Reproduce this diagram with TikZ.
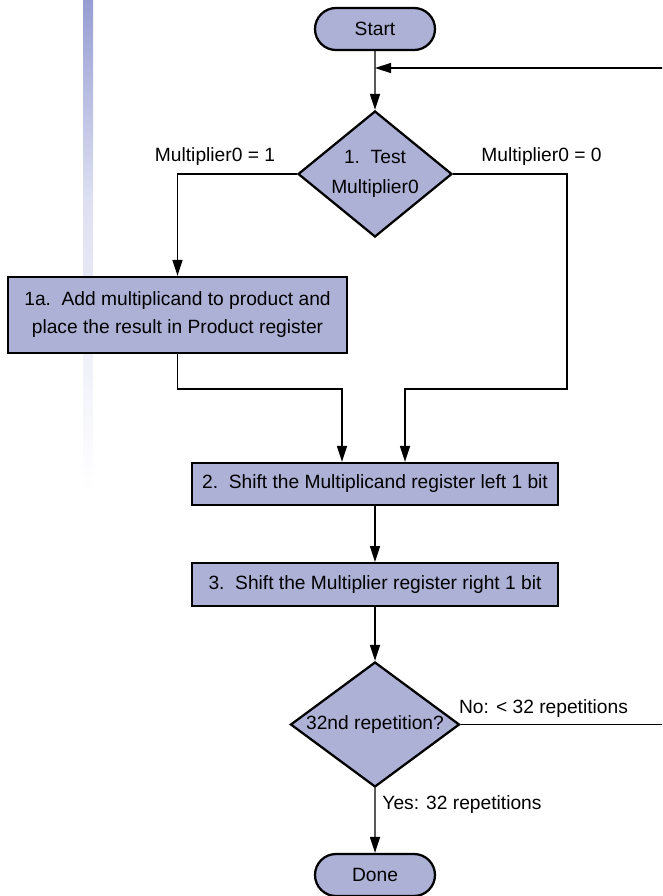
\documentclass[tikz,border=0pt]{standalone}
\usepackage{fontspec}
\setmainfont{Liberation Sans}
\usetikzlibrary{shapes.geometric,shapes.misc,arrows.meta}
\definecolor{stepfill}{RGB}{173,177,214}
\definecolor{barblue}{RGB}{150,158,210}
\definecolor{barpale}{RGB}{222,224,242}

\begin{document}
\begin{tikzpicture}[x=0.75pt, y=-0.75pt,
                    every node/.style={font=\fontsize{14.4}{21}\selectfont},
                    terminal/.style={draw, fill=stepfill, line width=1.7pt, rounded rectangle,
                                     inner sep=0pt, minimum width=90pt, minimum height=31.5pt},
                    stepbox/.style={draw, fill=stepfill, line width=1.7pt, rectangle,
                                    inner sep=0pt, align=center},
                    test/.style={draw, fill=stepfill, line width=1.7pt, diamond,
                                 inner sep=0pt, align=center},
                    arr/.style={-{Triangle[length=12pt,width=7.5pt]}, line width=1.1pt}]

                      \useasboundingbox (0,0) rectangle (662,896);
                      \clip (0,0) rectangle (662,896);

                      % Fading bar on the left
                      \shade [top color=barblue, bottom color=barpale] (83,0) rectangle (93,200);
                      \shade [top color=barpale, bottom color=white] (83,200) rectangle (93,490);

                      % Steps
                      \node [terminal] (start) at (375,29) {Start};
                      \node [test, aspect=1.22, minimum width=115.5pt, minimum height=94.5pt] (test1) at (375,174)
                            {1.\ \ Test\\[1.5pt]Multiplier0};
                      \node [stepbox, minimum width=254pt, minimum height=57pt] (add) at (177.5,315)
                            {1a.\ \ Add multiplicand to product and\\place the result in Product register};
                      \node [stepbox, minimum width=274.5pt, minimum height=31.5pt] (shiftcand) at (375,484)
                            {2.\ \ Shift the Multiplicand register left 1 bit};
                      \node [stepbox, minimum width=274.5pt, minimum height=32pt] (shiftplier) at (375,584.5)
                            {3.\ \ Shift the Multiplier register right 1 bit};
                      \node [test, aspect=1.34, minimum width=126.75pt, minimum height=93.75pt] (test32) at (375,724.5)
                            {32nd repetition?};
                      \node [terminal] (done) at (375,875) {Done};

                      % Branch labels
                      \node [anchor=base] (oneLbl) at (215,161) {Multiplier0 = 1};
                      \node [anchor=base] (zeroLbl) at (541.5,161) {Multiplier0 = 0};
                      \node [anchor=base] (noLbl) at (543.5,713) {No: < 32 repetitions};
                      \node [anchor=base] (yesLbl) at (462,809) {Yes: 32 repetitions};

                      % Bend points
                      \coordinate (merge) at (375,68);
                      \coordinate (rim) at (690,0);
                      \coordinate (oneleg) at (342,389);
                      \coordinate (zeroleg) at (405,389);
                      \coordinate (zeroturn) at (567,389);

                      \draw [arr] (start) -- (test1);
                      \draw [arr] (test1.west) -| (add.north);
                      \draw [arr] (test1.east) -| (zeroturn) -- (zeroleg) -- (zeroleg |- shiftcand.north);
                      \draw [arr] (add.south) |- (oneleg) -- (oneleg |- shiftcand.north);
                      \draw [arr] (shiftcand) -- (shiftplier);
                      \draw [arr] (shiftplier) -- (test32);
                      \draw [arr] (test32) -- (done);
                      %\draw [arr] (test32.east) -- (rim);
                      \draw [arr] (test32.east) -- (test32.east -| rim) |- (merge);
\end{tikzpicture}
\end{document}
